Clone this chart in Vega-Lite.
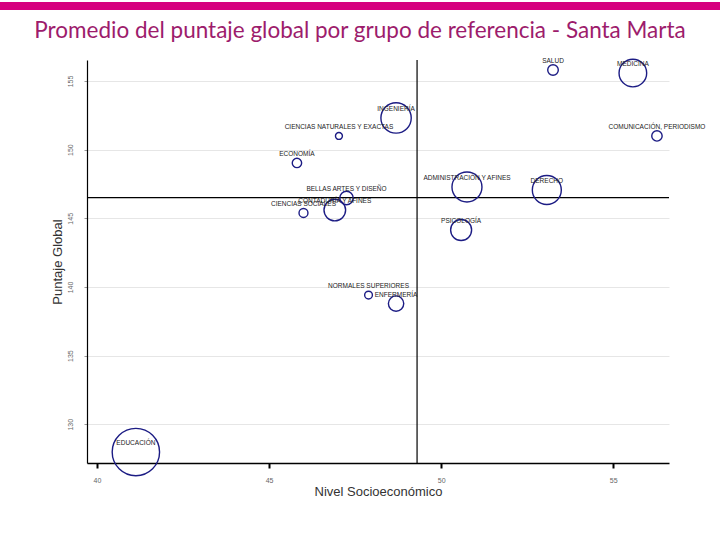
{
  "$schema": "https://vega.github.io/schema/vega-lite/v6.json",
  "padding": 0,
  "spacing": 13,
  "background": "white",
  "config": {"view": {"stroke": null}, "font": "Liberation Sans"},
  "datasets": {
    "grupos": [
      {"grupo": "SALUD", "nse": 53.25, "puntaje": 155.80, "n": 28},
      {"grupo": "MEDICINA", "nse": 55.57, "puntaje": 155.58, "n": 191},
      {"grupo": "INGENIERÍA", "nse": 48.69, "puntaje": 152.31, "n": 230},
      {"grupo": "CIENCIAS NATURALES Y EXACTAS", "nse": 47.03, "puntaje": 151.0, "n": 12},
      {"grupo": "COMUNICACIÓN, PERIODISMO", "nse": 56.27, "puntaje": 151.0, "n": 27},
      {"grupo": "ECONOMÍA", "nse": 45.81, "puntaje": 149.03, "n": 22},
      {"grupo": "ADMINISTRACIÓN Y AFINES", "nse": 50.75, "puntaje": 147.28, "n": 225},
      {"grupo": "DERECHO", "nse": 53.07, "puntaje": 147.06, "n": 210},
      {"grupo": "BELLAS ARTES Y DISEÑO", "nse": 47.25, "puntaje": 146.48, "n": 45},
      {"grupo": "CONTADURÍA Y AFINES", "nse": 46.91, "puntaje": 145.60, "n": 117},
      {"grupo": "CIENCIAS SOCIALES", "nse": 46.00, "puntaje": 145.39, "n": 20},
      {"grupo": "PSICOLOGÍA", "nse": 50.58, "puntaje": 144.15, "n": 110},
      {"grupo": "NORMALES SUPERIORES", "nse": 47.89, "puntaje": 139.41, "n": 15},
      {"grupo": "ENFERMERÍA", "nse": 48.69, "puntaje": 138.79, "n": 59},
      {"grupo": "EDUCACIÓN", "nse": 41.13, "puntaje": 127.98, "n": 561}
    ],
    "ref": [{"nse": 49.3, "puntaje": 146.5}]
  },
  "vconcat": [
    {
      "width": 720,
      "height": 8,
      "view": {"fill": "#d6007e", "stroke": null},
      "title": {
        "text": "Promedio del puntaje global por grupo de referencia - Santa Marta",
        "orient": "bottom", "anchor": "middle", "frame": "group",
        "offset": 27, "baseline": "alphabetic",
        "font": "Lato", "fontSize": 22.5, "fontWeight": "normal", "color": "#9d1c6c"
      },
      "data": {"values": [{}]},
      "mark": {"type": "text"},
      "encoding": {}
    },
    {
      "spacing": 0,
      "hconcat": [
        {
          "width": 51,
          "height": 10,
          "data": {"values": [{}]},
          "mark": {"type": "text"},
          "encoding": {}
        },
        {
          "width": 582,
          "height": 403,
          "layer": [
            {
              "data": {"name": "ref"},
              "mark": {"type": "rule", "color": "black", "strokeWidth": 1.2},
              "encoding": {"x": {"field": "nse", "type": "quantitative", "title": "Nivel Socioeconómico"}}
            },
            {
              "data": {"name": "ref"},
              "mark": {"type": "rule", "color": "black", "strokeWidth": 1.2},
              "encoding": {"y": {"field": "puntaje", "type": "quantitative", "title": "Puntaje Global"}}
            },
            {
              "data": {"name": "grupos"},
              "mark": {"type": "point", "shape": "circle", "filled": false, "stroke": "#1c1c84", "strokeWidth": 1.4, "opacity": 1},
              "encoding": {
                "x": {
                  "field": "nse", "type": "quantitative", "title": "Nivel Socioeconómico",
                  "scale": {"domain": [39.71, 56.62], "nice": false, "zero": false},
                  "axis": {
                    "values": [40, 45, 50, 55], "grid": false,
                    "domainColor": "black", "domainWidth": 1.5,
                    "tickColor": "black", "tickWidth": 2, "tickSize": 5,
                    "labelFontSize": 7, "labelColor": "#666", "labelPadding": 8,
                    "titleFontSize": 13, "titleFontWeight": "normal", "titleColor": "#333", "titlePadding": 2
                  }
                },
                "y": {
                  "field": "puntaje", "type": "quantitative", "title": "Puntaje Global",
                  "scale": {"domain": [127.18, 156.53], "nice": false, "zero": false},
                  "axis": {
                    "values": [130, 135, 140, 145, 150, 155], "grid": true,
                    "gridColor": "#e6e6e6", "gridWidth": 1,
                    "domainColor": "black", "domainWidth": 1.2,
                    "tickColor": "#999", "tickSize": 3,
                    "labelAngle": -90, "labelAlign": "center", "labelBaseline": "bottom",
                    "labelFontSize": 7, "labelColor": "#666", "labelPadding": 11,
                    "titleFontSize": 13, "titleFontWeight": "normal", "titleColor": "#333", "titlePadding": 2
                  }
                },
                "size": {
                  "field": "n", "type": "quantitative",
                  "scale": {"type": "linear", "domain": [0, 576], "range": [0, 2304]},
                  "legend": null
                }
              }
            },
            {
              "data": {"name": "grupos"},
              "mark": {"type": "text", "fontSize": 6.5, "dy": -9, "baseline": "middle", "align": "center", "color": "#222"},
              "encoding": {
                "x": {"field": "nse", "type": "quantitative", "title": "Nivel Socioeconómico"},
                "y": {"field": "puntaje", "type": "quantitative", "title": "Puntaje Global"},
                "text": {"field": "grupo"}
              }
            }
          ]
        }
      ]
    }
  ]
}
